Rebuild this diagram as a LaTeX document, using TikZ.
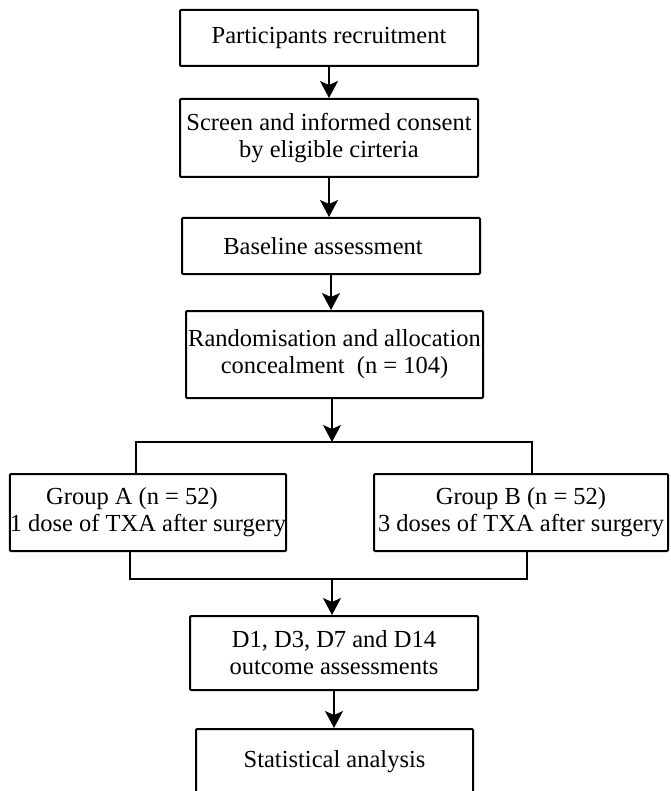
\documentclass[tikz,border=0pt]{standalone}
\usepackage{fontspec}
\setmainfont{Liberation Serif}
\usetikzlibrary{arrows.meta}

\begin{document}
\begin{tikzpicture}[x=1pt,y=-1pt,
	box/.style={draw,line width=2pt,rounded corners=1pt,align=center,inner sep=0pt,font=\fontsize{24.5}{27}\selectfont},
	arr/.style={line width=1.5pt,-{Stealth[length=17pt,width=18pt,inset=4pt]}},
	link/.style={line width=1.5pt}]
	\useasboundingbox (0,0) rectangle (670,791);
	\clip (0,0) rectangle (670,791);
	% boxes
	\path (329,38) node [box,minimum width=298pt,minimum height=56pt] (recruit) {Participants recruitment};
	\path (329,138) node [box,minimum width=298pt,minimum height=78pt] (consent) {Screen and informed consent\\by eligible cirteria};
	\path (331,246) node [box,minimum width=298pt,minimum height=56pt] (baseline) {Baseline assessment\hspace*{16pt}};
	\path (334.5,354.5) node [box,minimum width=297pt,minimum height=87pt] (random) {Randomisation and allocation\\concealment~~(n = 104)};
	\path (148,512.5) node [box,minimum width=272pt,minimum height=77pt] (groupA) {Group A (n = 52)\hspace*{32pt}\\1 dose of TXA after surgery};
	\path (521,512.5) node [box,minimum width=294pt,minimum height=77pt] (groupB) {Group B (n = 52)\\3 doses of TXA after surgery};
	\path (334,653) node [box,minimum width=288pt,minimum height=74pt] (outcome) {D1, D3, D7 and D14\\outcome assessments};
	\path (334.5,762) node [box,minimum width=277pt,minimum height=66pt] (stats) {Statistical analysis};
	% branch points
	\coordinate (split) at (332,442);
	\coordinate (splitA) at (136,442);
	\coordinate (splitB) at (532,442);
	\coordinate (merge) at (332,579);
	\coordinate (mergeA) at (130,579);
	\coordinate (mergeB) at (527,579);
	% connectors
	\draw [arr] (recruit.south) -- (recruit.south |- consent.north);
	\draw [arr] (consent.south) -- (consent.south |- baseline.north);
	\draw [arr] (baseline.south) -- (baseline.south |- random.north);
	\draw [arr] (split |- random.south) -- (split);
	\draw [link] (groupA.north -| splitA) -- (splitA) -- (splitB) -- (groupB.north -| splitB);
	\draw [link] (groupA.south -| mergeA) -- (mergeA) -- (mergeB) -- (groupB.south -| mergeB);
	\draw [arr] (merge) -- (merge |- outcome.north);
	\draw [arr] (outcome.south) -- (outcome.south |- stats.north);
\end{tikzpicture}
\end{document}
